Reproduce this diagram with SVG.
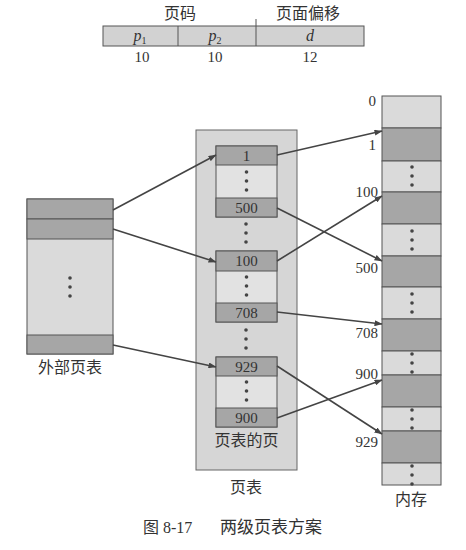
<svg xmlns="http://www.w3.org/2000/svg" width="466" height="550" viewBox="0 0 466 550">
<style>
text{font-family:"Liberation Serif","Noto Sans CJK SC",serif;fill:#333;}
.cn{font-size:16px;}
.num{font-size:15px;}
.dark{fill:#a6a6a6;stroke:#555;stroke-width:1;}
.light{fill:#dadada;stroke:#555;stroke-width:1;}
.bg{fill:#d6d6d6;stroke:#666;stroke-width:1;}
.mid{fill:#e2e2e2;stroke:#555;stroke-width:1;}
.dot{fill:#444;}
.conn line{stroke:#444;stroke-width:1.6;marker-end:url(#ah);}
</style>
<defs>
<marker id="ah" markerWidth="8" markerHeight="6" refX="7.5" refY="3" orient="auto" markerUnits="userSpaceOnUse">
<path d="M0,0 L8,3 L0,6 Z" fill="#444"/>
</marker>
<g id="d3"><circle cx="0" cy="0" r="1.8" class="dot"/><circle cx="0" cy="9" r="1.8" class="dot"/><circle cx="0" cy="18" r="1.8" class="dot"/></g>
</defs>
<rect width="466" height="550" fill="#fff"/>

<g id="address">
<text class="cn" x="180" y="19" text-anchor="middle">页码</text>
<text class="cn" x="308" y="19" text-anchor="middle">页面偏移</text>
<rect x="103" y="26" width="261" height="20" fill="#d2d2d2" stroke="#555"/>
<line x1="178" y1="26" x2="178" y2="46" stroke="#555"/>
<line x1="256" y1="19" x2="256" y2="46" stroke="#555"/>
<text x="140" y="41" text-anchor="middle" font-size="16" font-style="italic">p<tspan font-size="10" font-style="normal" dy="3">1</tspan></text>
<text x="215" y="41" text-anchor="middle" font-size="16" font-style="italic">p<tspan font-size="10" font-style="normal" dy="3">2</tspan></text>
<text x="310" y="41" text-anchor="middle" font-size="16" font-style="italic">d</text>
<text class="num" x="142" y="62" text-anchor="middle">10</text>
<text class="num" x="215" y="62" text-anchor="middle">10</text>
<text class="num" x="310" y="62" text-anchor="middle">12</text>
</g>

<g id="outer">
<rect class="light" x="27" y="199" width="86" height="155"/>
<rect class="dark" x="27" y="199" width="86" height="20"/>
<rect class="dark" x="27" y="219" width="86" height="20"/>
<rect class="dark" x="27" y="335" width="86" height="19"/>
<use href="#d3" x="70" y="278"/>
<text class="cn" x="70" y="373" text-anchor="middle">外部页表</text>
</g>

<g id="pagetable">
<rect class="bg" x="196" y="130" width="101" height="340"/>
<text class="cn" x="246" y="493" text-anchor="middle">页表</text>
<use href="#d3" x="246" y="224"/>
<use href="#d3" x="246" y="330"/>
</g>

<g id="page1">
<rect class="mid" x="216" y="146" width="61" height="71"/>
<rect class="dark" x="216" y="146" width="61" height="19"/>
<rect class="dark" x="216" y="198" width="61" height="19"/>
<text class="num" x="246.5" y="161" text-anchor="middle">1</text>
<text class="num" x="246.5" y="213" text-anchor="middle">500</text>
<use href="#d3" x="246.5" y="172"/>
</g>
<g id="page2">
<rect class="mid" x="216" y="251" width="61" height="71"/>
<rect class="dark" x="216" y="251" width="61" height="20"/>
<rect class="dark" x="216" y="303" width="61" height="19"/>
<text class="num" x="246.5" y="266" text-anchor="middle">100</text>
<text class="num" x="246.5" y="318" text-anchor="middle">708</text>
<use href="#d3" x="246.5" y="277"/>
</g>
<g id="page3">
<rect class="mid" x="216" y="357" width="61" height="70"/>
<rect class="dark" x="216" y="357" width="61" height="19"/>
<rect class="dark" x="216" y="408" width="61" height="19"/>
<text class="num" x="246.5" y="372" text-anchor="middle">929</text>
<text class="num" x="246.5" y="423" text-anchor="middle">900</text>
<use href="#d3" x="246.5" y="382"/>
<text class="cn" x="246.5" y="446" text-anchor="middle">页表的页</text>
</g>

<g id="memory">
<rect class="light" x="382" y="96" width="59" height="32"/>
<rect class="dark" x="382" y="128" width="59" height="33"/>
<rect class="light" x="382" y="161" width="59" height="31"/>
<rect class="dark" x="382" y="192" width="59" height="32"/>
<rect class="light" x="382" y="224" width="59" height="32"/>
<rect class="dark" x="382" y="256" width="59" height="31"/>
<rect class="light" x="382" y="287" width="59" height="32"/>
<rect class="dark" x="382" y="319" width="59" height="32"/>
<rect class="light" x="382" y="351" width="59" height="24"/>
<rect class="dark" x="382" y="375" width="59" height="32"/>
<rect class="light" x="382" y="407" width="59" height="24"/>
<rect class="dark" x="382" y="431" width="59" height="32"/>
<rect class="light" x="382" y="463" width="59" height="22"/>
<use href="#d3" x="412" y="167"/>
<use href="#d3" x="412" y="231"/>
<use href="#d3" x="412" y="294"/>
<use href="#d3" x="412" y="354"/>
<use href="#d3" x="412" y="410"/>
<use href="#d3" x="412" y="466"/>
<text class="num" x="376" y="106" text-anchor="end">0</text>
<text class="num" x="376" y="150" text-anchor="end">1</text>
<text class="num" x="378" y="197" text-anchor="end">100</text>
<text class="num" x="378" y="273" text-anchor="end">500</text>
<text class="num" x="378" y="338" text-anchor="end">708</text>
<text class="num" x="378" y="379" text-anchor="end">900</text>
<text class="num" x="378" y="447" text-anchor="end">929</text>
<text class="cn" x="411" y="505" text-anchor="middle">内存</text>
</g>

<g id="connectors" class="conn">
<line x1="113" y1="210" x2="216" y2="155"/>
<line x1="113" y1="229" x2="216" y2="262"/>
<line x1="113" y1="345" x2="216" y2="367"/>
<line x1="277" y1="155" x2="382" y2="131"/>
<line x1="277" y1="208" x2="382" y2="261"/>
<line x1="277" y1="261" x2="382" y2="196"/>
<line x1="277" y1="312" x2="382" y2="324"/>
<line x1="277" y1="366" x2="382" y2="434"/>
<line x1="277" y1="418" x2="382" y2="380"/>
</g>

<g id="caption">
<text x="143" y="533" font-size="16">图 8-17</text>
<text x="220" y="533" font-size="17">两级页表方案</text>
</g>
</svg>
